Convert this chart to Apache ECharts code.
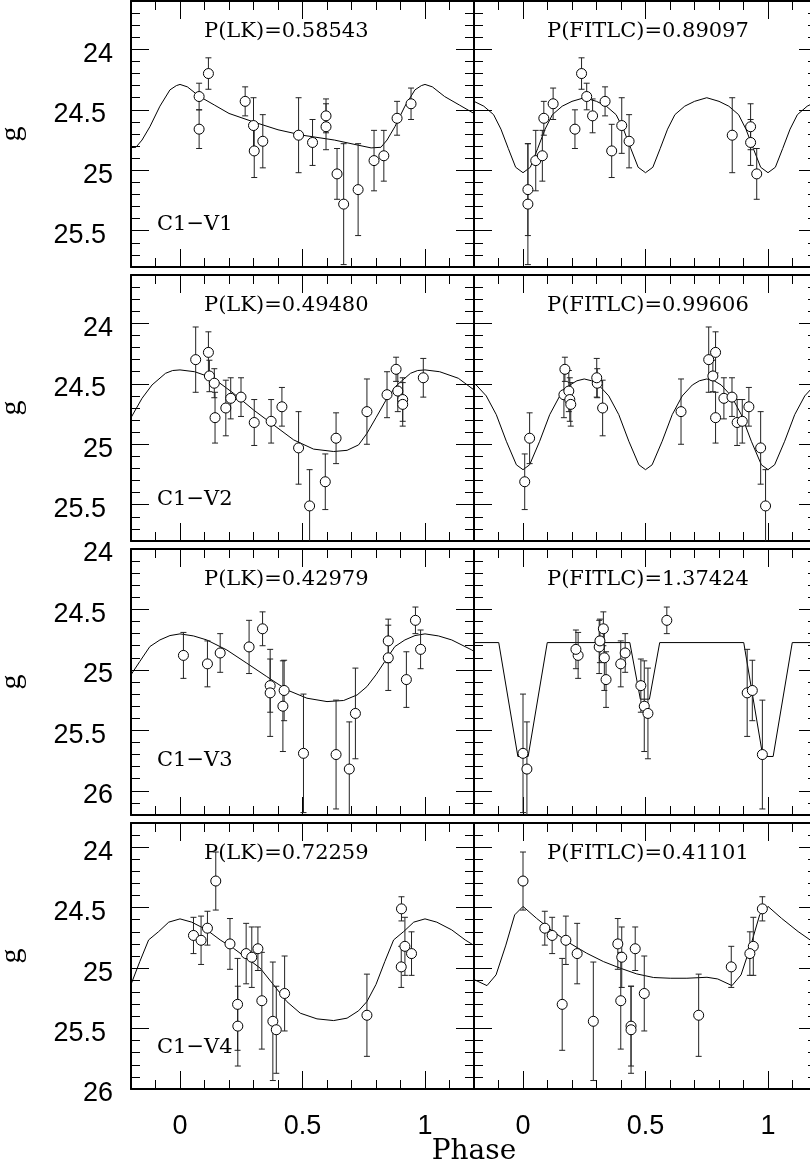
<!DOCTYPE html>
<html>
<head>
<meta charset="utf-8">
<script src="https://cdn.jsdelivr.net/npm/echarts@6/dist/echarts.min.js"></script>
<style>
  html, body { margin: 0; padding: 0; background: #fff; }
  #chart { width: 810px; height: 1170px; }
</style>
</head>
<body>
<div id="chart"></div>
<script>
// ---- labels ----
const starNames = ['C1\u2212V1', 'C1\u2212V2', 'C1\u2212V3', 'C1\u2212V4'];
const periodLK = ['0.58543', '0.49480', '0.42979', '0.72259'];
const periodFit = ['0.89097', '0.99606', '1.37424', '0.41101'];
const magRange = [[23.6, 25.8], [23.6, 25.8], [24.0, 26.2], [23.8, 26.0]];
const magTicks = [[24, 24.5, 25, 25.5], [24, 24.5, 25, 25.5], [24, 24.5, 25, 25.5, 26], [24, 24.5, 25, 25.5, 26]];
const phaseTicks = [0, 0.5, 1];

// ---- C1-V1 photometry ----
const v1Mag = [24.39, 24.66, 24.20, 24.43, 24.63, 24.84, 24.76, 24.71, 24.77, 24.55, 24.64, 25.03, 25.28, 25.16, 24.92, 24.88, 24.57, 24.45];
const v1Err = [0.11, 0.16, 0.13, 0.12, 0.23, 0.22, 0.22, 0.31, 0.19, 0.14, 0.19, 0.21, 0.50, 0.38, 0.25, 0.21, 0.14, 0.13];
const v1PhaseLK = [0.078, 0.078, 0.116, 0.266, 0.300, 0.303, 0.338, 0.484, 0.541, 0.596, 0.596, 0.641, 0.668, 0.727, 0.792, 0.832, 0.886, 0.943];
const v1PhaseFit = [0.260, 0.212, 0.239, 0.335, 0.403, 0.362, 0.433, 0.854, 0.929, 0.284, 0.929, 0.954, 0.020, 0.020, 0.052, 0.079, 0.085, 0.123];
const v1CurveLK = [[0, 24.29], [0.03, 24.31], [0.08, 24.39], [0.14, 24.46], [0.2, 24.53], [0.3, 24.6], [0.4, 24.665], [0.5, 24.71], [0.63, 24.75], [0.71, 24.785], [0.78, 24.815], [0.82, 24.81], [0.845, 24.75], [0.877, 24.64], [0.918, 24.47], [0.959, 24.335], [0.985, 24.3], [1, 24.29]];
const v1CurveFit = [[0, 25.02], [0.03, 24.975], [0.06, 24.82], [0.09, 24.66], [0.12, 24.54], [0.16, 24.47], [0.2, 24.43], [0.25, 24.40], [0.3, 24.43], [0.34, 24.47], [0.38, 24.54], [0.41, 24.66], [0.44, 24.82], [0.47, 24.975], [0.5, 25.02], [0.53, 24.975], [0.56, 24.82], [0.59, 24.66], [0.62, 24.54], [0.66, 24.47], [0.7, 24.43], [0.75, 24.40], [0.8, 24.43], [0.84, 24.47], [0.88, 24.54], [0.91, 24.66], [0.94, 24.82], [0.97, 24.975], [1, 25.02]];

// ---- C1-V2 photometry ----
const v2Mag = [24.30, 24.24, 24.435, 24.495, 24.78, 24.70, 24.62, 24.61, 24.82, 24.81, 24.69, 25.03, 25.51, 25.31, 24.95, 24.73, 24.59, 24.38, 24.56, 24.63, 24.67, 24.45];
const v2Err = [0.27, 0.17, 0.13, 0.12, 0.21, 0.23, 0.17, 0.16, 0.19, 0.18, 0.16, 0.30, 0.30, 0.23, 0.21, 0.27, 0.19, 0.10, 0.17, 0.18, 0.18, 0.16];
const v2PhaseLK = [0.064, 0.116, 0.120, 0.140, 0.143, 0.187, 0.207, 0.249, 0.303, 0.372, 0.416, 0.484, 0.529, 0.593, 0.637, 0.763, 0.845, 0.882, 0.889, 0.909, 0.909, 0.993];
const v2PhaseFit = [0.758, 0.786, 0.775, 0.303, 0.786, 0.325, 0.820, 0.853, 0.874, 0.895, 0.922, 0.970, 0.990, 0.007, 0.027, 0.645, 0.167, 0.171, 0.187, 0.191, 0.195, 0.301];
const v2CurveLK = [[0, 24.385], [0.06, 24.40], [0.136, 24.454], [0.218, 24.578], [0.3, 24.716], [0.382, 24.84], [0.464, 24.964], [0.545, 25.04], [0.627, 25.06], [0.682, 25.05], [0.729, 25.005], [0.763, 24.91], [0.8, 24.78], [0.845, 24.62], [0.886, 24.509], [0.941, 24.413], [0.97, 24.39], [1, 24.385]];
const v2CurveFit = [[0, 25.21], [0.027, 25.17], [0.068, 24.975], [0.109, 24.755], [0.15, 24.60], [0.191, 24.51], [0.22, 24.475], [0.25, 24.46], [0.28, 24.475], [0.309, 24.51], [0.35, 24.60], [0.391, 24.755], [0.432, 24.975], [0.473, 25.17], [0.5, 25.21], [0.527, 25.17], [0.568, 24.975], [0.609, 24.755], [0.65, 24.60], [0.691, 24.51], [0.72, 24.475], [0.75, 24.46], [0.78, 24.475], [0.809, 24.51], [0.85, 24.60], [0.891, 24.755], [0.932, 24.975], [0.973, 25.17], [1, 25.21]];

// ---- C1-V3 photometry ----
const v3Mag = [24.88, 24.95, 24.86, 24.81, 24.66, 25.13, 25.19, 25.17, 25.30, 25.69, 25.70, 25.82, 25.36, 24.76, 24.90, 25.08, 24.59, 24.83];
const v3Err = [0.19, 0.19, 0.16, 0.22, 0.14, 0.22, 0.36, 0.25, 0.375, 0.49, 0.45, 0.39, 0.375, 0.18, 0.27, 0.23, 0.11, 0.16];
const v3PhaseLK = [0.014, 0.112, 0.164, 0.282, 0.337, 0.368, 0.368, 0.425, 0.420, 0.504, 0.637, 0.691, 0.716, 0.850, 0.850, 0.924, 0.961, 0.982];
const v3PhaseFit = [0.225, 0.399, 0.417, 0.311, 0.328, 0.481, 0.915, 0.936, 0.495, 0.000, 0.977, 0.016, 0.510, 0.314, 0.332, 0.339, 0.587, 0.216];
const v3CurveLK = [[0, 24.702], [0.055, 24.719], [0.109, 24.752], [0.191, 24.835], [0.273, 24.945], [0.354, 25.055], [0.436, 25.165], [0.518, 25.234], [0.6, 25.262], [0.668, 25.253], [0.723, 25.207], [0.763, 25.138], [0.8, 25.04], [0.836, 24.93], [0.877, 24.807], [0.918, 24.752], [0.959, 24.716], [1, 24.702]];
const v3CurveFit = [[0, 25.716], [0.021, 25.716], [0.099, 24.774], [0.436, 24.774], [0.479, 25.242], [0.516, 25.242], [0.558, 24.774], [0.901, 24.774], [0.979, 25.716], [1, 25.716]];

// ---- C1-V4 photometry ----
const v4Mag = [24.73, 24.77, 24.67, 24.28, 24.80, 25.30, 25.48, 24.88, 24.91, 24.84, 25.27, 25.44, 25.51, 25.21, 25.39, 24.51, 24.99, 24.82, 24.88];
const v4Err = [0.15, 0.20, 0.14, 0.24, 0.21, 0.38, 0.33, 0.25, 0.25, 0.18, 0.40, 0.49, 0.36, 0.31, 0.34, 0.10, 0.17, 0.24, 0.18];
const v4PhaseLK = [0.055, 0.086, 0.112, 0.146, 0.204, 0.235, 0.236, 0.270, 0.293, 0.318, 0.334, 0.379, 0.393, 0.427, 0.763, 0.904, 0.903, 0.918, 0.945];
const v4PhaseFit = [0.119, 0.175, 0.089, 0.000, 0.387, 0.160, 0.441, 0.221, 0.403, 0.458, 0.399, 0.287, 0.441, 0.495, 0.717, 0.977, 0.850, 0.940, 0.926];
const v4CurveLK = [[0, 24.593], [0.048, 24.62], [0.109, 24.684], [0.164, 24.767], [0.218, 24.836], [0.273, 24.918], [0.327, 25.0], [0.382, 25.139], [0.436, 25.277], [0.491, 25.373], [0.559, 25.42], [0.627, 25.434], [0.682, 25.414], [0.729, 25.353], [0.763, 25.277], [0.8, 25.135], [0.836, 24.946], [0.872, 24.767], [0.913, 24.698], [0.954, 24.62], [1, 24.593]];
const v4CurveFit = [[0, 24.49], [0.055, 24.588], [0.123, 24.698], [0.191, 24.794], [0.26, 24.877], [0.328, 24.946], [0.396, 25.0], [0.464, 25.048], [0.533, 25.078], [0.601, 25.084], [0.669, 25.084], [0.751, 25.076], [0.795, 25.09], [0.853, 25.145], [0.89, 25.056], [0.93, 24.81], [0.966, 24.56], [1, 24.49]];

const stars = [
  { mag: v1Mag, err: v1Err, phase: [v1PhaseLK, v1PhaseFit], curve: [v1CurveLK, v1CurveFit] },
  { mag: v2Mag, err: v2Err, phase: [v2PhaseLK, v2PhaseFit], curve: [v2CurveLK, v2CurveFit] },
  { mag: v3Mag, err: v3Err, phase: [v3PhaseLK, v3PhaseFit], curve: [v3CurveLK, v3CurveFit] },
  { mag: v4Mag, err: v4Err, phase: [v4PhaseLK, v4PhaseFit], curve: [v4CurveLK, v4CurveFit] }
];

// ---- layout ----
const colLeft = [131, 474];
const colWidth = 343;
const rowTop = [1, 275, 549, 823];
const rowHeight = 266;
const nameOffset = [224, 225, 212, 225];
const SANS = 'Liberation Sans, Arial, Helvetica, sans-serif';
const SERIF = 'DejaVu Serif, serif';
const TIMES = 'Liberation Serif, Times New Roman, serif';
const INK = '#000';

// the folded cycle is repeated one period either side; the grid clips it to -0.2..1.2
function foldCurve(pts) {
  const out = [];
  pts.forEach(p => { if (p[0] < 1) out.push([p[0] - 1, p[1]]); });
  pts.forEach(p => out.push([p[0], p[1]]));
  pts.forEach(p => { if (p[0] > 0) out.push([p[0] + 1, p[1]]); });
  return out;
}

const tickStyle = { color: INK, width: 1 };
const frameStyle = { color: INK, width: 2 };

const grids = [], xAxes = [], yAxes = [], series = [], graphics = [];

stars.forEach((star, r) => {
  [0, 1].forEach(c => {
    const g = grids.length;
    grids.push({
      left: colLeft[c], top: rowTop[r], width: colWidth, height: rowHeight,
      containLabel: false, outerBoundsMode: 'none'
    });
    const isBottom = r === 3;
    const xBase = { type: 'value', gridIndex: g, min: -0.2, max: 1.2, splitLine: { show: false } };
    // bottom: minor ticks + frame, then major ticks + labels
    xAxes.push(Object.assign({}, xBase, {
      position: 'bottom', interval: 0.1,
      axisLine: { show: true, onZero: false, lineStyle: frameStyle },
      axisTick: { show: true, inside: true, length: 9, lineStyle: tickStyle },
      axisLabel: { show: false }
    }));
    xAxes.push(Object.assign({}, xBase, {
      position: 'bottom',
      axisLine: { show: false, onZero: false },
      axisTick: { show: true, inside: true, length: 18, customValues: phaseTicks, lineStyle: tickStyle },
      axisLabel: { show: isBottom, customValues: phaseTicks, margin: 24, fontFamily: SANS, fontSize: 27, color: INK }
    }));
    // top mirror
    xAxes.push(Object.assign({}, xBase, {
      position: 'top', interval: 0.1,
      axisLine: { show: true, onZero: false, lineStyle: frameStyle },
      axisTick: { show: true, inside: true, length: 9, lineStyle: tickStyle },
      axisLabel: { show: false }
    }));
    xAxes.push(Object.assign({}, xBase, {
      position: 'top',
      axisLine: { show: false, onZero: false },
      axisTick: { show: true, inside: true, length: 18, customValues: phaseTicks, lineStyle: tickStyle },
      axisLabel: { show: false }
    }));

    const yBase = { type: 'value', gridIndex: g, min: magRange[r][0], max: magRange[r][1], inverse: true, splitLine: { show: false } };
    yAxes.push(Object.assign({}, yBase, {
      position: 'left', interval: 0.1,
      axisLine: { show: true, onZero: false, lineStyle: frameStyle },
      axisTick: { show: true, inside: true, length: 9, lineStyle: tickStyle },
      axisLabel: { show: false }
    }));
    const labelTok = { fontFamily: SANS, fontSize: 27, color: INK };
    yAxes.push(Object.assign({}, yBase, {
      position: 'left',
      name: c === 0 ? 'g' : '',
      nameLocation: 'middle', nameRotate: 90, nameGap: 104, nameMoveOverlap: false,
      nameTextStyle: { fontFamily: TIMES, fontSize: 30, color: INK },
      axisLine: { show: false, onZero: false },
      axisTick: { show: true, inside: true, length: 18, customValues: magTicks[r], lineStyle: tickStyle },
      axisLabel: {
        show: c === 0, customValues: magTicks[r], margin: 18,
        fontFamily: SANS, fontSize: 27, color: INK,
        formatter: v => (Number.isInteger(v) ? '{i|' : '{h|') + v + '}',
        rich: {
          i: Object.assign({ padding: [10, 0, 0, 0] }, labelTok),
          h: Object.assign({ padding: [10, 7, 0, 0] }, labelTok)
        }
      }
    }));
    yAxes.push(Object.assign({}, yBase, {
      position: 'right', interval: 0.1,
      axisLine: { show: true, onZero: false, lineStyle: frameStyle },
      axisTick: { show: true, inside: true, length: 9, lineStyle: tickStyle },
      axisLabel: { show: false }
    }));
    yAxes.push(Object.assign({}, yBase, {
      position: 'right',
      axisLine: { show: false, onZero: false },
      axisTick: { show: true, inside: true, length: 18, customValues: magTicks[r], lineStyle: tickStyle },
      axisLabel: { show: false }
    }));

    const xi = 4 * g, yi = 4 * g;
    const pts = star.mag.map((m, k) => [star.phase[c][k], m, star.err[k]]);

    series.push({
      type: 'line', xAxisIndex: xi, yAxisIndex: yi,
      data: foldCurve(star.curve[c]),
      showSymbol: false, symbol: 'none', smooth: false, clip: true,
      lineStyle: { color: INK, width: 1 }, z: 2, silent: true
    });
    series.push({
      type: 'custom', xAxisIndex: xi, yAxisIndex: yi, clip: true, z: 3, silent: true,
      data: pts,
      encode: { x: 0, y: 1 },
      renderItem: (params, api) => {
        const x = api.value(0), y = api.value(1), e = api.value(2);
        const a = api.coord([x, y - e]);
        const b = api.coord([x, y + e]);
        const hw = 3;
        const st = { stroke: '#222', lineWidth: 1, fill: null };
        return {
          type: 'group',
          children: [
            { type: 'line', shape: { x1: a[0], y1: a[1], x2: b[0], y2: b[1] }, style: st },
            { type: 'line', shape: { x1: a[0] - hw, y1: a[1], x2: a[0] + hw, y2: a[1] }, style: st },
            { type: 'line', shape: { x1: b[0] - hw, y1: b[1], x2: b[0] + hw, y2: b[1] }, style: st }
          ]
        };
      }
    });
    series.push({
      type: 'scatter', xAxisIndex: xi, yAxisIndex: yi, clip: true, z: 4, silent: true,
      data: pts.map(p => [p[0], p[1]]),
      symbol: 'circle', symbolSize: 10,
      itemStyle: { color: '#fff', borderColor: INK, borderWidth: 1, opacity: 1 }
    });

    graphics.push({
      type: 'text', x: colLeft[c] + 73, y: rowTop[r] + 31, silent: true,
      style: {
        text: (c === 0 ? 'P(LK)=' + periodLK[r] : 'P(FITLC)=' + periodFit[r]),
        font: '21px ' + SERIF, fill: INK, align: 'left', verticalAlign: 'middle'
      }
    });
    if (c === 0) {
      graphics.push({
        type: 'text', x: colLeft[c] + 26, y: rowTop[r] + nameOffset[r], silent: true,
        style: { text: starNames[r], font: '21px ' + SERIF, fill: INK, align: 'left', verticalAlign: 'middle' }
      });
    }
  });
});

graphics.push({
  type: 'text', x: 474, y: 1152, silent: true,
  style: { text: 'Phase', font: '28px ' + SERIF, fill: INK, align: 'center', verticalAlign: 'middle' }
});

const chart = echarts.init(document.getElementById('chart'), null, { renderer: 'canvas' });
chart.setOption({
  backgroundColor: '#fff',
  animation: false,
  grid: grids,
  xAxis: xAxes,
  yAxis: yAxes,
  series: series,
  graphic: graphics
});
</script>
</body>
</html>
